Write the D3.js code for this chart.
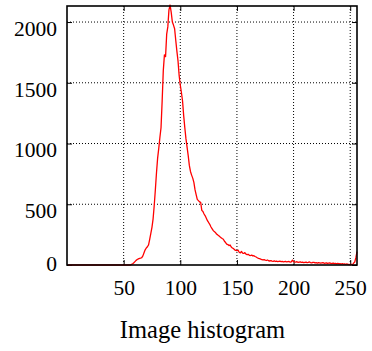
<!DOCTYPE html>
<html><head><meta charset="utf-8">
<script src="https://cdn.jsdelivr.net/npm/d3@7"></script>
<style>body{margin:0;background:#fff}svg{display:block}</style>
</head><body>
<script>
// Histogram counts for intensity bins 1..256
const counts = [
0,0,0,0,0,0,0,0,0,0, 0,0,0,0,0,0,0,0,0,0,
0,0,0,0,0,0,0,0,0,0, 0,0,0,0,0,0,0,0,0,0,
0,0,0,0,0,0,0,0,0,0, 0,0,0,0,0,0,
5,10,18,28,38,45,50,55,57,60,
75,100,125,140,150,165,210,260,310,380,
490,620,760,880,960,1050,1130,1350,1600,1730,
1715,1900,1960,2100,2140,2080,2000,1975,1945,1850,
1760,1680,1560,1480,1420,1350,1230,1130,1040,970,
900,820,770,740,715,680,620,580,540,530,
520,515,450,440,420,405,385,365,350,335,
315,300,285,275,268,255,248,240,232,225,
218,212,195,185,172,168,160,165,148,140,
135,125,120,118,122,105,100,112,98,95,
102,90,85,88,80,78,82,75,77,70,
66,60,55,52,48,45,42,44,40,37,
41,35,33,36,32,30,34,29,31,28,
30,32,27,29,26,28,30,25,27,29,
24,26,40,28,25,23,27,22,24,26,
21,23,20,22,24,19,21,25,20,18,
22,21,17,19,16,20,18,15,17,19,
14,16,18,13,15,17,12,14,16,11,
13,10,14,9,12,8,11,7,10,6,
9,5,4,3,6,2,15,25,60,110
];
const xTicks = [50, 100, 150, 200, 250];
const yTicks = [0, 500, 1000, 1500, 2000];
const title = "Image histogram";

const W = 372, H = 351;
const m = {left: 67, right: 15, top: 6, bottom: 86};
const FONT = '"Liberation Serif"';
const svg = d3.select("body").append("svg").attr("width", W).attr("height", H)
  .style("font-family", FONT);
const x = d3.scaleLinear().domain([0, 256]).range([m.left, W - m.right]);
const y = d3.scaleLinear().domain([0, 2132]).range([H - m.bottom, m.top]);

const g = svg.append("g");
// grid
g.selectAll(".gx").data(xTicks).join("line")
  .attr("x1", d => x(d)).attr("x2", d => x(d))
  .attr("y1", y(0)).attr("y2", m.top)
  .attr("stroke", "#000").attr("stroke-width", 1).attr("stroke-dasharray", "1,2");
g.selectAll(".gy").data(yTicks.filter(d => d > 0)).join("line")
  .attr("x1", m.left).attr("x2", W - m.right)
  .attr("y1", d => y(d)).attr("y2", d => y(d))
  .attr("stroke", "#000").attr("stroke-width", 1).attr("stroke-dasharray", "1,2");

// axes (ticks inward, mirrored)
const fmt = d3.format("d");
const axB = d3.axisBottom(x).tickValues(xTicks).tickFormat(fmt).tickSize(-5).tickPadding(15);
const axL = d3.axisLeft(y).tickValues(yTicks).tickFormat(fmt).tickSize(-5).tickPadding(10);
const axT = d3.axisTop(x).tickValues(xTicks).tickSize(-5).tickFormat("");
const axR = d3.axisRight(y).tickValues(yTicks).tickSize(-5).tickFormat("");
function style(sel) {
  sel.attr("font-family", "Liberation Serif").attr("font-size", 21.5)
     .style("font-family", FONT).style("font-size", "21.5px");
  sel.select(".domain").remove();
  sel.selectAll("text").attr("fill", "#000");
  sel.selectAll("line").attr("stroke", "#000");
}
svg.append("g").attr("transform", `translate(0,${y(0)})`).call(axB).call(style);
const gl = svg.append("g").attr("transform", `translate(${m.left},0)`).call(axL).call(style);
// labels hang just below their gridline, except the 0 label
gl.selectAll("text").attr("dy", d => d > 0 ? "0.62em" : "0.25em");
svg.append("g").attr("transform", `translate(0,${m.top})`).call(axT).call(style);
svg.append("g").attr("transform", `translate(${W - m.right},0)`).call(axR).call(style);

// data line
const line = d3.line().x((d, i) => x(i + 1)).y(d => y(d));
svg.append("path").datum(counts).attr("d", line)
  .attr("fill", "none").attr("stroke", "#ff0000").attr("stroke-width", 1.3)
  .attr("stroke-linejoin", "round");

// frame
svg.append("rect").attr("x", m.left).attr("y", m.top)
  .attr("width", W - m.right - m.left).attr("height", y(0) - m.top)
  .attr("fill", "none").attr("stroke", "#000").attr("stroke-width", 1.6);

svg.append("text").attr("x", 202.5).attr("y", 338).attr("text-anchor", "middle")
  .style("font-family", FONT).style("font-size", "24.5px").attr("fill", "#000").text(title);
</script>
</body></html>
